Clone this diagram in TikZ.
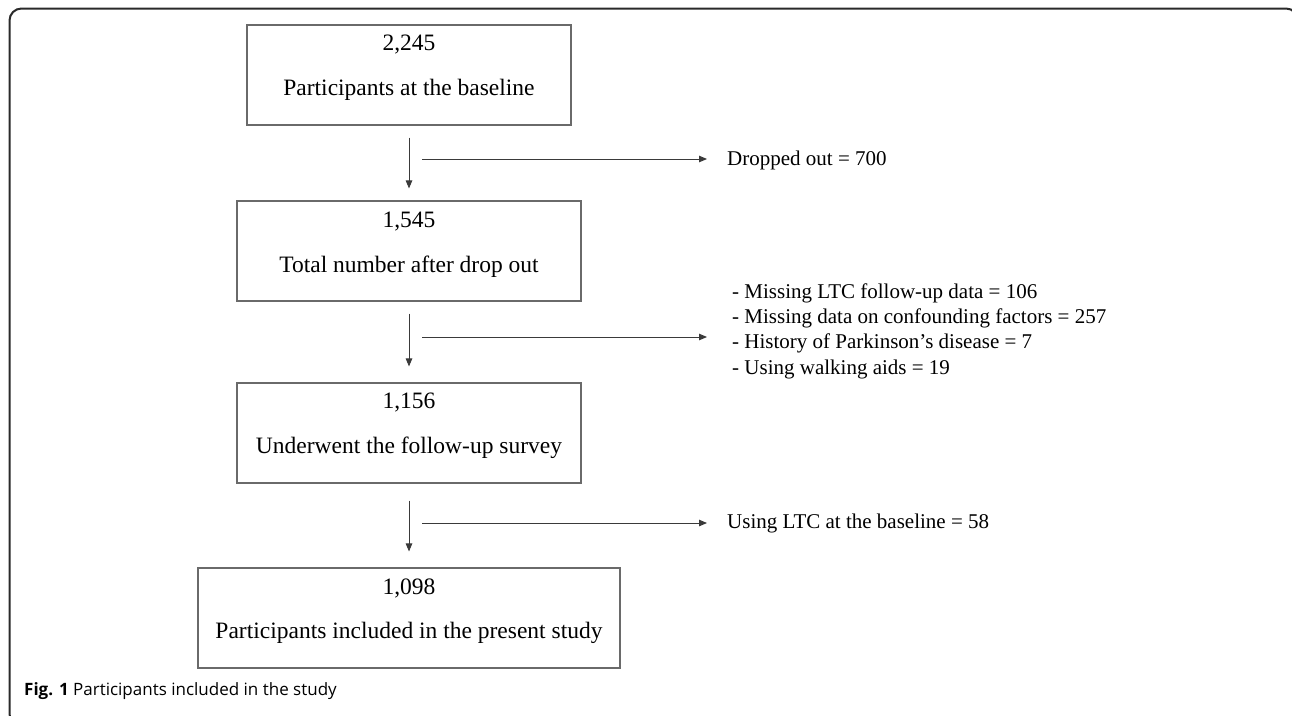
\documentclass[tikz,border=0pt]{standalone}
\usepackage{fontspec}
\setmainfont{Liberation Serif}
\newfontfamily\capfont{Open Sans}
\usetikzlibrary{arrows.meta}
\definecolor{boxgray}{HTML}{6A6A6A}
\definecolor{arrgray}{HTML}{3A3A3A}
\definecolor{framec}{HTML}{2A2A2A}
\begin{document}
\begin{tikzpicture}[x=1pt,y=-1pt,
  stepbox/.style={draw=boxgray, line width=1.1pt, minimum height=100pt, inner sep=0pt},
  txt/.style={font=\fontsize{23.5}{28}\selectfont, inner sep=0pt, text=black},
  side/.style={font=\fontsize{21}{25.3}\selectfont, inner sep=0pt, align=left, anchor=west, text=black},
  arr/.style={draw=arrgray, line width=0.9pt, -{Triangle[length=8pt,width=6.5pt]}}
]
\useasboundingbox (0,0) rectangle (1292,715);
\begin{scope}
\clip (0,0) rectangle (1292,715);
\draw[framec, line width=2pt, rounded corners=12pt] (9.5,8.5) rectangle (1298,726);
\end{scope}
% boxes
\node[stepbox, minimum width=324pt] (b1) at (409,75) {};
\node[stepbox, minimum width=344pt] (b2) at (409,251) {};
\node[stepbox, minimum width=344pt] (b3) at (409,433) {};
\node[stepbox, minimum width=422pt] (b4) at (409,618) {};
% texts
\node[txt] (n1) at (409,45) {2,245};
\node[txt] (l1) at (409,90) {Participants at the baseline};
\node[txt] (n2) at (409,222) {1,545};
\node[txt] (l2) at (409,267) {Total number after drop out};
\node[txt] (n3) at (409,403) {1,156};
\node[txt] (l3) at (409,448) {Underwent the follow-up survey};
\node[txt] (n4) at (409,588) {1,098};
\node[txt] (l4) at (409,633) {Participants included in the present study};
% vertical arrows
\draw[arr, shorten <=12pt, shorten >=12pt] (b1.south) -- (b2.north);
\draw[arr, shorten <=12pt, shorten >=16pt] (b2.south) -- (b3.north);
\draw[arr, shorten <=17pt, shorten >=16pt] (b3.south) -- (b4.north);
% side texts
\node[side] (d1) at (727,160) {Dropped out = 700};
\node[side] (d2) at (732,331) {- Missing LTC follow-up data = 106\\- Missing data on confounding factors = 257\\- History of Parkinson’s disease = 7\\- Using walking aids = 19};
\node[side] (d3) at (727,523) {Using LTC at the baseline = 58};
% horizontal arrows
\coordinate (h1) at (422,159);
\coordinate (h2) at (422,337);
\coordinate (h3) at (422,523);
\draw[arr, shorten >=20pt] (h1) -- (h1 -| d1.west);
\draw[arr, shorten >=25pt] (h2) -- (h2 -| d2.west);
\draw[arr, shorten >=20pt] (h3) -- (h3 -| d3.west);
% caption
\node[anchor=base west, inner sep=0pt, font=\capfont\fontsize{17}{20}\selectfont] (cap) at (24,695) {\textbf{Fig. 1} Participants included in the study};
\end{tikzpicture}
\end{document}
